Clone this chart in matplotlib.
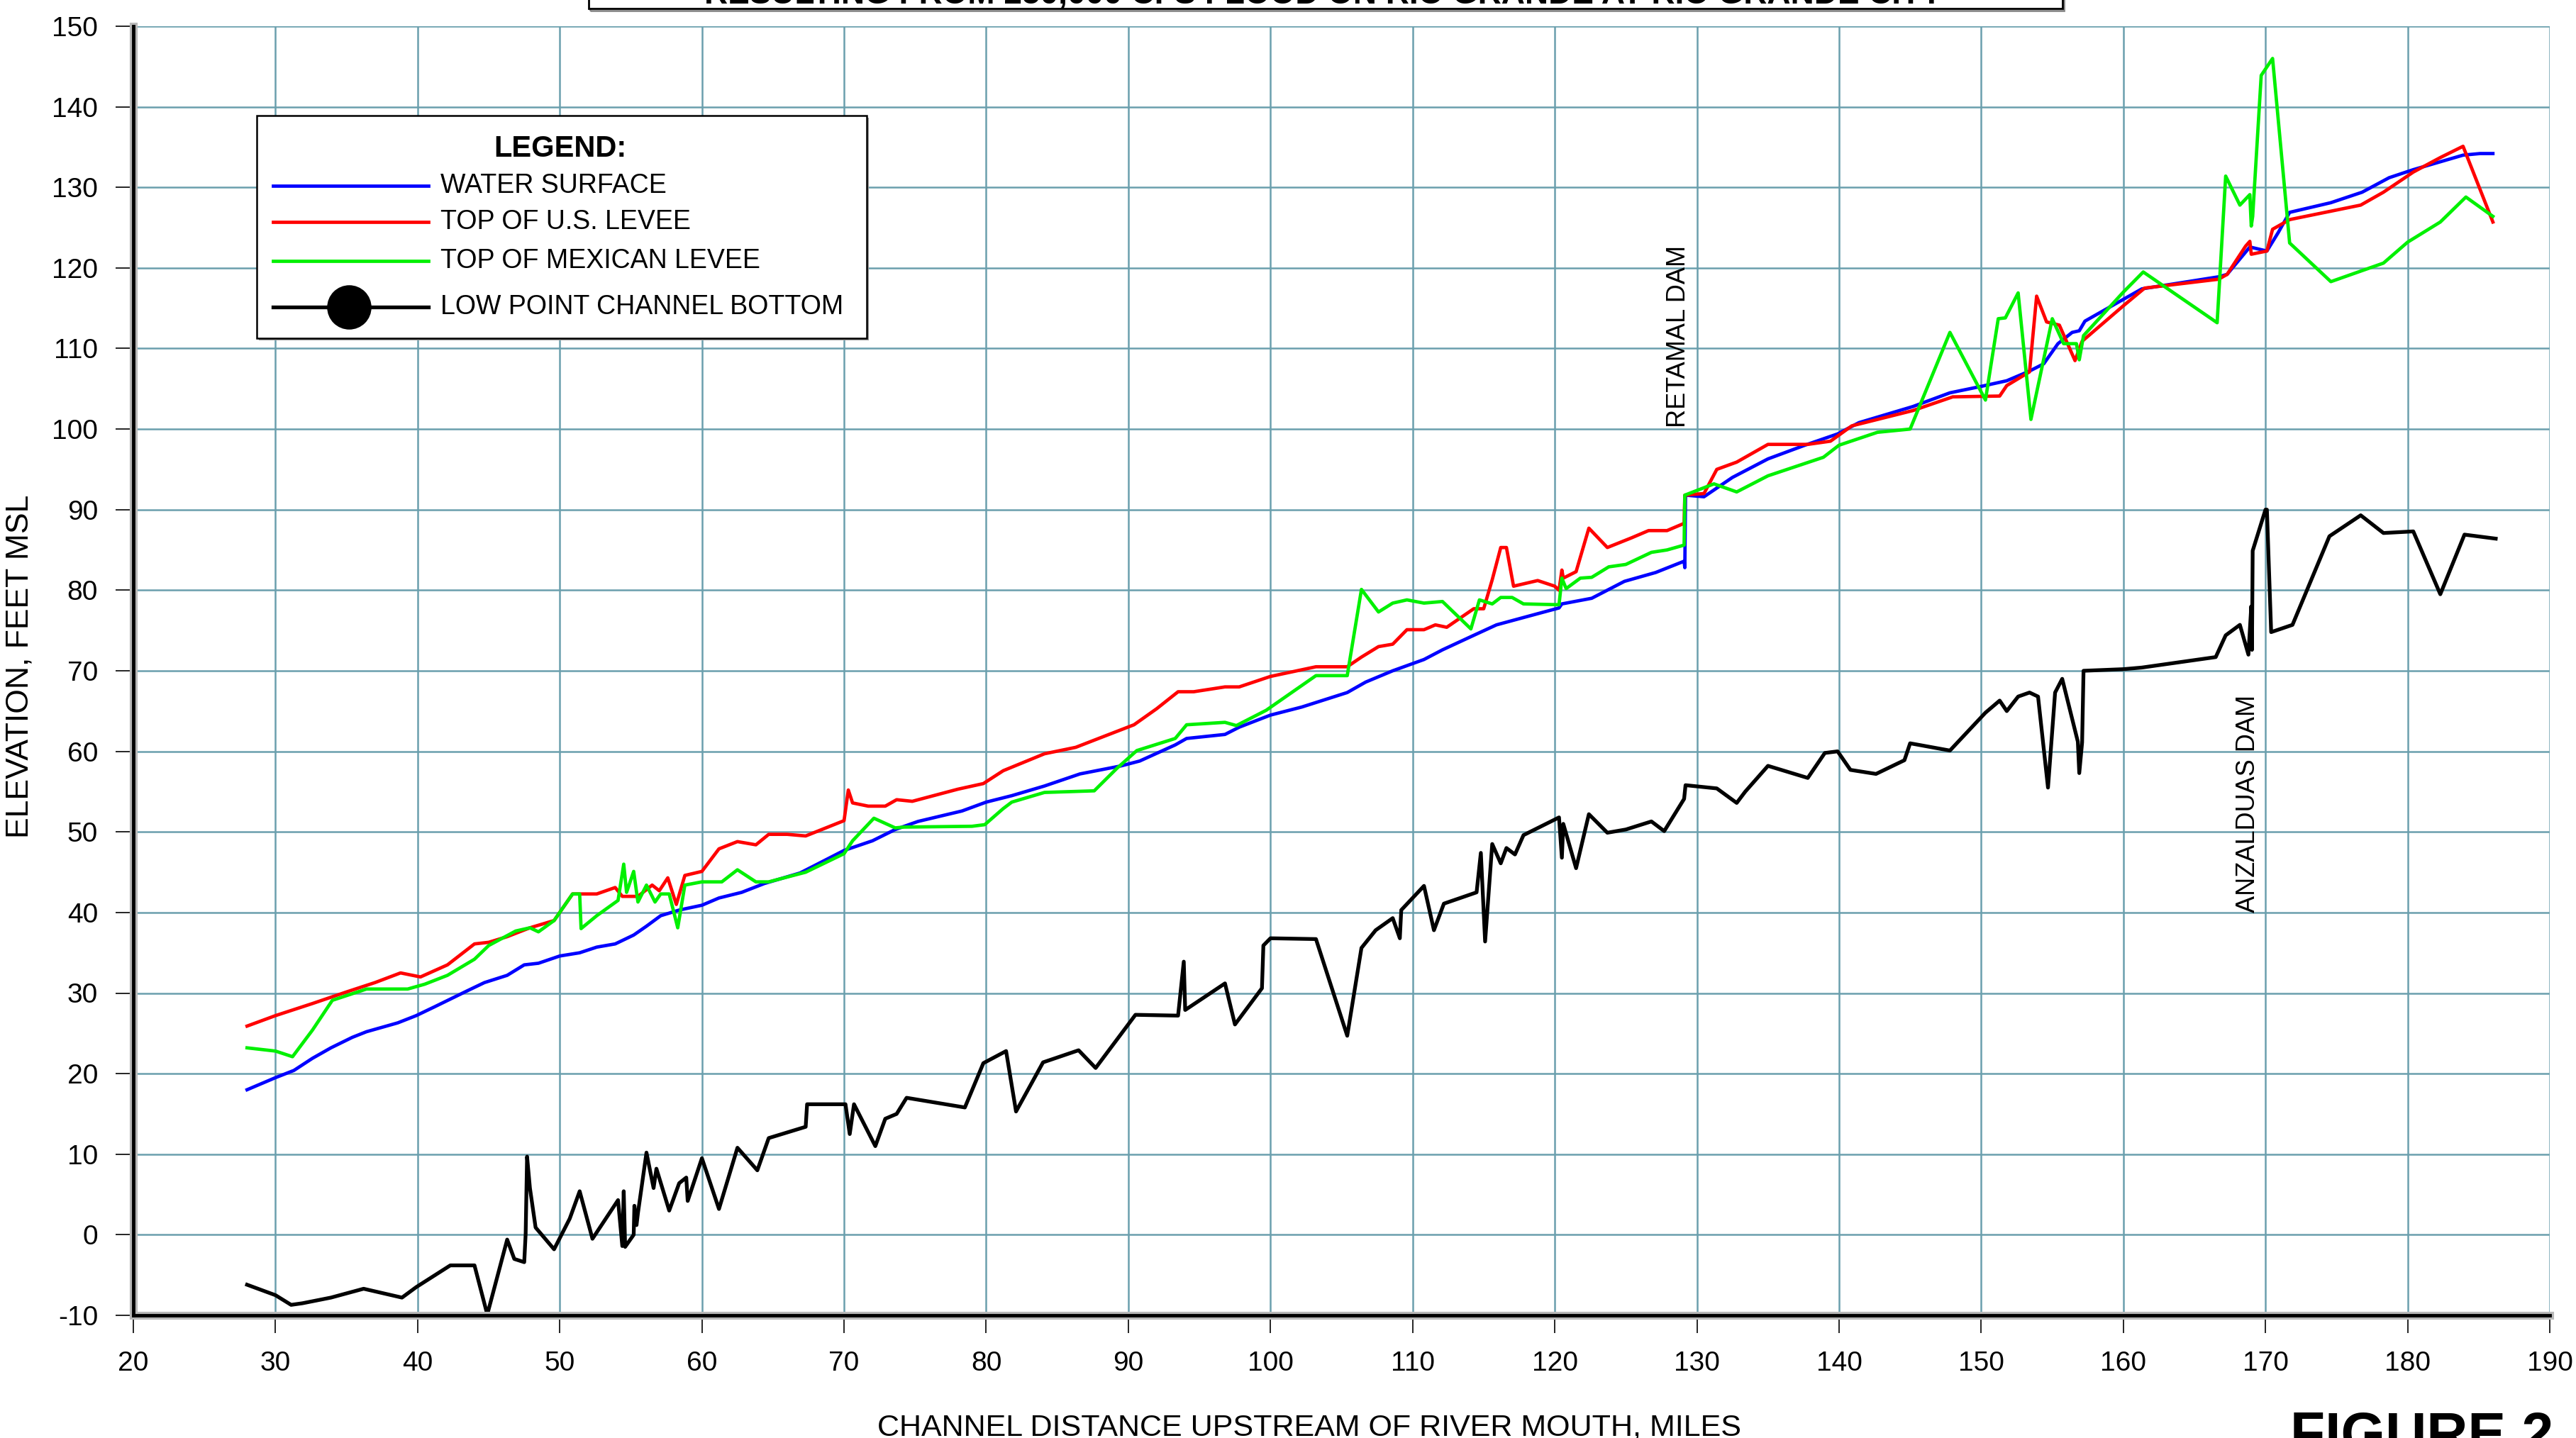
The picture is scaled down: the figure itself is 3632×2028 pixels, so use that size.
import matplotlib
matplotlib.use("Agg")
import matplotlib.pyplot as plt
from matplotlib.patches import Rectangle
from matplotlib.lines import Line2D

plt.rcParams['font.family'] = ['Liberation Sans', 'DejaVu Sans']
plt.rcParams['axes.unicode_minus'] = False

W, H = 3632, 2028

# water surface profile (blue)
ws_mile = [28, 30, 31.3, 32.6, 33.9, 35.4, 36.4, 38.6, 39.9, 41.2, 43.4, 44.7, 46.3, 47.5, 48.5,
           50, 51.4, 52.6, 53.9, 55.2, 56.1, 57.1, 58.4, 60, 61.2, 62.8, 64.4, 66.9, 67.9, 70,
           72, 73.6, 75.2, 78.3, 80, 81.8, 84.1, 86.6, 89.5, 90.8, 93.3, 94.1, 96.8, 97.8, 100,
           102.2, 105.4, 106.7, 108.6, 110.8, 112.1, 114.3, 115.9, 118.2, 120.3, 120.5, 122.6,
           124.9, 127.1, 129.1, 129.15, 129.2, 130.5, 132.5, 135.0, 137.6, 139.9, 141.4, 145.2,
           147.8, 150, 151.8, 153.4, 154.4, 155.4, 156.4, 156.9, 157.3, 160, 161.3, 166.7, 167.3,
           168.9, 170.1, 170.9, 171.7, 174.6, 176.8, 178.7, 180.4, 183.9, 185.1, 186.0]
ws_elev = [18.0, 19.5, 20.4, 21.9, 23.2, 24.5, 25.2, 26.3, 27.2, 28.3, 30.2, 31.3, 32.2, 33.5, 33.7,
           34.6, 35.0, 35.7, 36.1, 37.2, 38.3, 39.6, 40.3, 40.9, 41.8, 42.5, 43.6, 44.9, 45.8, 47.7,
           48.9, 50.3, 51.3, 52.6, 53.7, 54.5, 55.7, 57.2, 58.2, 58.8, 60.8, 61.6, 62.1, 63.0, 64.5,
           65.5, 67.3, 68.6, 70.0, 71.4, 72.6, 74.4, 75.7, 76.8, 77.8, 78.3, 79.0,
           81.1, 82.2, 83.6, 82.8, 91.8, 91.6, 94.0, 96.3, 98.0, 99.4, 100.8, 102.8,
           104.5, 105.3, 106.0, 107.2, 108.1, 110.6, 112.0, 112.2, 113.4, 116.1, 117.4, 118.9, 119.2,
           122.6, 122.1, 124.4, 126.9, 128.1, 129.4, 131.2, 132.2, 134.0, 134.2, 134.2]

# top of U.S. levee (red)
us_mile = [28, 30, 32.6, 35.1, 37.0, 38.8, 40.2, 42.1, 44.0, 45.0, 46.3, 47.9, 49.6, 50.9, 51.4,
           52.6, 53.9, 54.4, 55.5, 56.5, 57.0, 57.6, 58.2, 58.8, 60, 61.2, 62.5, 63.8, 64.7, 66,
           67.3, 70, 70.3, 70.6, 71.7, 72.9, 73.7, 74.8, 78.0, 79.8, 81.2, 84.1, 86.3, 88.2, 90.4,
           92.0, 93.5, 94.6, 96.8, 97.8, 100, 103.2, 105.4, 106.4, 107.6, 108.6, 109.6, 110.8,
           111.6, 112.4, 114.3, 115.0, 115.6, 116.2, 116.6, 117.1, 118.8, 120.0, 120.3, 120.5,
           120.6, 121.5, 122.4, 123.7, 125.4, 126.6, 127.9, 129.1, 129.15, 130.5, 131.4, 132.8,
           135.0, 137.8, 139.4, 140.9, 145.2, 148.0, 151.3, 151.8, 153.4, 153.9, 154.6, 155.5,
           156.6, 157.1, 160, 161.5, 166.7, 167.3, 168.6, 168.9, 169.0, 170.1, 170.5, 171.7,
           176.7, 178.3, 180.4, 182.3, 183.9, 186.0]
us_elev = [25.9, 27.2, 28.7, 30.2, 31.3, 32.5, 32.0, 33.5, 36.1, 36.3, 37.0, 38.1, 39.0, 42.3, 42.3,
           42.3, 43.1, 42.0, 42.0, 43.4, 42.7, 44.3, 41.0, 44.6, 45.1, 47.9, 48.8, 48.4, 49.7, 49.7,
           49.5, 51.4, 55.2, 53.6, 53.2, 53.2, 54.0, 53.8, 55.3, 56.0, 57.6, 59.7, 60.5, 61.8, 63.3,
           65.3, 67.4, 67.4, 68.0, 68.0, 69.3, 70.5, 70.5, 71.7, 73.0, 73.3, 75.1, 75.1,
           75.7, 75.4, 77.7, 77.7, 81.3, 85.3, 85.3, 80.5, 81.2, 80.5, 80.0, 82.5,
           81.5, 82.3, 87.7, 85.3, 86.5, 87.4, 87.4, 88.3, 91.8, 92.0, 95.0, 95.9,
           98.1, 98.1, 98.5, 100.4, 102.3, 104.0, 104.1, 105.4, 107.1, 116.5, 113.3, 112.9,
           108.5, 110.9, 115.3, 117.5, 118.6, 119.2, 122.7, 123.3, 121.7, 122.1, 124.8, 126.0,
           127.8, 129.4, 131.9, 133.7, 135.1, 125.7]

# top of Mexican levee (green)
mx_mile = [28, 30, 31.2, 32.6, 34, 36.4, 39.3, 40.5, 42.1, 44, 45, 46.9, 47.9, 48.5, 49.6, 50.9,
           51.4, 51.5, 52.6, 54.1, 54.5, 54.7, 55.2, 55.5, 56.1, 56.7, 57.1, 57.7, 58.3, 58.8, 60,
           61.4, 62.5, 63.8, 64.7, 67.3, 70, 70.6, 72.1, 73.6, 74.2, 79.0, 79.9, 81.2, 81.8, 84.1,
           87.6, 89.2, 90.6, 93.3, 94.1, 96.8, 97.6, 99.7, 103.2, 105.4, 106.4, 107.6, 108.6,
           109.6, 110.8, 112.1, 114.1, 114.7, 115.6, 116.2, 117.0, 117.8, 120.3, 120.5, 120.8,
           121.8, 122.6, 123.8, 125.0, 126.8, 127.9, 129.1, 129.15, 131.2, 132.8, 135.0, 138.9,
           140.0, 142.7, 145.0, 147.8, 150.3, 151.2, 151.7, 152.6, 153.5, 155.0, 155.8, 156.7,
           156.9, 157.2, 160, 161.4, 166.6, 167.2, 168.2, 168.9, 169.0, 169.1, 169.7, 170.5,
           171.7, 174.6, 178.3, 180, 182.3, 184.1, 186.0]
mx_elev = [23.2, 22.8, 22.1, 25.4, 29.1, 30.5, 30.5, 31.1, 32.2, 34.2, 35.9, 37.7, 38.1, 37.6, 39.0, 42.3,
           42.3, 38.0, 39.6, 41.5, 46.0, 42.5, 45.1, 41.3, 43.4, 41.3, 42.3, 42.3, 38.1, 43.4, 43.8,
           43.8, 45.3, 43.8, 43.8, 45.0, 47.3, 48.9, 51.7, 50.5, 50.6, 50.7, 50.9, 52.9, 53.7, 54.9,
           55.1, 57.9, 60.1, 61.6, 63.3, 63.6, 63.2, 65.1, 69.4, 69.4, 80.1, 77.3, 78.4,
           78.8, 78.4, 78.6, 75.2, 78.8, 78.3, 79.1, 79.1, 78.3, 78.2, 81.5, 80.2,
           81.5, 81.6, 82.9, 83.2, 84.7, 85.0, 85.6, 91.8, 93.2, 92.2, 94.2, 96.5,
           98.0, 99.6, 100.0, 112.0, 103.6, 113.7, 113.8, 116.9, 101.2, 113.7, 110.6, 110.6,
           108.6, 111.6, 117.0, 119.5, 113.2, 131.4, 127.8, 129.1, 125.2, 126.4, 143.9, 146.0,
           123.1, 118.3, 120.6, 123.2, 125.7, 128.8, 126.4]

# low point channel bottom (black)
cb_mile = [28, 30, 31.1, 31.9, 33.9, 36.2, 38.9, 39.9, 42.3, 44.0, 44.9, 46.3, 46.8, 47.5, 47.6,
           47.7, 47.9, 48.3, 49.6, 50.7, 51.4, 52.3, 54.1, 54.4, 54.5, 54.6, 55.2, 55.25, 55.4,
           55.5, 56.1, 56.6, 56.8, 57.7, 58.4, 58.9, 59.0, 60, 61.2, 62.5, 63.9, 64.7, 67.3, 67.4,
           70.1, 70.4, 70.7, 72.2, 72.9, 73.7, 74.4, 78.5, 79.8, 81.4, 82.1, 84.0, 86.5, 87.7,
           90.5, 93.5, 93.9, 94.0, 96.8, 97.5, 99.4, 99.5, 100, 103.2, 105.4, 106.4, 107.4,
           108.6, 109.1, 109.2, 110.8, 111.5, 112.2, 114.5, 114.8, 115.1, 115.6, 116.2, 116.6,
           117.2, 117.8, 120.3, 120.5, 120.6, 121.5, 122.4, 123.7, 125.0, 126.8, 127.7, 129.1,
           129.2, 131.4, 132.8, 133.4, 135.0, 137.8, 139.0, 139.9, 140.8, 142.6, 144.6, 145.0,
           147.8, 150.3, 151.3, 151.8, 152.6, 153.4, 154.0, 154.7, 155.2, 155.7, 156.8, 156.9,
           157.1, 157.2, 160.0, 161.3, 166.5, 167.2, 168.2, 168.8, 169.0, 169.05, 169.1, 170.0,
           170.1, 170.4, 171.9, 174.5, 176.7, 178.3, 180.4, 182.3, 184.0, 186.2]
cb_elev = [-6.2, -7.5, -8.7, -8.5, -7.8, -6.7, -7.8, -6.5, -3.8, -3.8, -9.9, -0.6, -3.0, -3.4, 0.1,
           9.7, 5.8, 0.9, -1.8, 2.0, 5.4, -0.5, 4.3, -1.4, 5.4, -1.5, 0.0, 3.6, 1.2,
           2.7, 10.2, 5.8, 8.2, 3.0, 6.4, 7.1, 4.2, 9.5, 3.2, 10.8, 8.0, 12.0, 13.4, 16.2,
           16.2, 12.5, 16.2, 11.0, 14.4, 15.0, 17.0, 15.8, 21.3, 22.8, 15.3, 21.4, 22.9, 20.7,
           27.3, 27.2, 33.9, 27.9, 31.2, 26.1, 30.6, 35.9, 36.8, 36.7, 24.7, 35.6, 37.8,
           39.3, 36.8, 40.3, 43.3, 37.8, 41.1, 42.5, 47.4, 36.4, 48.5, 46.1, 48.0,
           47.2, 49.6, 51.8, 46.8, 51.0, 45.5, 52.2, 49.9, 50.3, 51.3, 50.1, 54.1,
           55.8, 55.4, 53.6, 55.0, 58.2, 56.7, 59.8, 60.0, 57.7, 57.2, 58.9, 61.0,
           60.1, 64.8, 66.3, 65.0, 66.8, 67.3, 66.8, 55.5, 67.3, 69.0, 61.2, 57.3,
           61.1, 70.0, 70.2, 70.4, 71.7, 74.4, 75.7, 72.0, 78.0, 72.6, 84.9, 90.0,
           90.0, 74.8, 75.7, 86.7, 89.3, 87.1, 87.3, 79.5, 86.9, 86.4]

x_ticks = list(range(20, 191, 10))
y_ticks = list(range(-10, 151, 10))

series = [
    ("WATER SURFACE", ws_mile, ws_elev, "#0000ff"),
    ("TOP OF U.S. LEVEE", us_mile, us_elev, "#ff0000"),
    ("TOP OF MEXICAN LEVEE", mx_mile, mx_elev, "#00f000"),
]


def fxy(px, py):
    # full-size pixel position -> figure fraction
    return px / W, 1 - py / H


fig = plt.figure(figsize=(W / 100, H / 100), dpi=100)
ax = fig.add_axes([188 / W, 1 - 1855 / H, (3595 - 188) / W, (1855 - 37) / H])

grid_col = "#6a9fad"
ax.set_xlim(20, 190)
ax.set_ylim(-10, 150)
ax.set_xticks(x_ticks)
ax.set_yticks(y_ticks)
ax.grid(True, color=grid_col, lw=1.8, zorder=0)
ax.set_axisbelow(True)

ax.plot(cb_mile, cb_elev, color="black", lw=3.8, zorder=3)
for name, xs, ys, col in series:
    ax.plot(xs, ys, color=col, lw=3.4, zorder=4)

for s in ["top", "right"]:
    ax.spines[s].set_visible(False)
for s in ["left", "bottom"]:
    ax.spines[s].set_linewidth(3.5)
    ax.spines[s].set_zorder(6)
# gray halo along the two axis lines
ax.add_line(Line2D([20, 20], [-10, 150], color="#b8b8b8", lw=8, zorder=5, clip_on=False))
ax.add_line(Line2D([20, 190], [-10, -10], color="#b8b8b8", lw=8, zorder=5, clip_on=False))

ax.tick_params(direction="out", length=18, width=1.2, labelsize=28, pad=18, colors="black")

ax.text(128.7, 100.2, "RETAMAL DAM", rotation=90, ha="center", va="bottom",
        fontsize=26, zorder=7)
ax.text(168.75, 40.0, "ANZALDUAS DAM", rotation=90, ha="center", va="bottom",
        fontsize=26, zorder=7)

# axis titles
fig.text(*fxy(28, 940), "ELEVATION, FEET MSL", rotation=90, ha="center", va="center",
         fontsize=32)
fig.text(*fxy(1846, 1993), "CHANNEL DISTANCE UPSTREAM OF RIVER MOUTH, MILES", ha="center",
         va="top", fontsize=31)
fig.text(*fxy(3600, 1990), "FIGURE 2", ha="right", va="top", fontsize=58, fontweight="bold")

# title box, cut by the top edge
bx0, by0 = fxy(830, 12)
bx1, _ = fxy(2908, 12)
fig.add_artist(Rectangle((bx0 + 2 / W, by0 - 3 / H), bx1 - bx0, 0.05, transform=fig.transFigure,
                         fill=False, ec="#888888", lw=2.0))
fig.add_artist(Rectangle((bx0, by0), bx1 - bx0, 0.05, transform=fig.transFigure,
                         facecolor="white", ec="black", lw=2.0))
fig.text(*fxy(1866, 5), "RESULTING FROM 250,000 CFS FLOOD ON RIO GRANDE AT RIO GRANDE CITY",
         ha="center", va="baseline", fontsize=33, fontweight="bold")

# legend box
lx0, ly1 = fxy(362, 163)
lx1, ly0 = fxy(1222, 477)
fig.add_artist(Rectangle((lx0 + 3 / W, ly0 - 3 / H), lx1 - lx0, ly1 - ly0, transform=fig.transFigure,
                         facecolor="#999999", ec="none", zorder=9))
fig.add_artist(Rectangle((lx0, ly0), lx1 - lx0, ly1 - ly0, transform=fig.transFigure,
                         facecolor="white", ec="black", lw=1.8, zorder=10))
fig.text(*fxy(790, 210), "LEGEND:", ha="center", va="center", fontsize=30, fontweight="bold",
         zorder=11)
rows_y = [262, 313, 368]
for (name, xs, ys, col), ry in zip(series, rows_y):
    a, b = fxy(385, ry)
    c, _ = fxy(604, ry)
    fig.add_artist(Line2D([a, c], [b, b], color=col, lw=3.4, transform=fig.transFigure, zorder=11))
    fig.text(*fxy(621, ry), name, ha="left", va="center", fontsize=27, zorder=11)
a, b = fxy(385, 433)
c, _ = fxy(604, 433)
m, _ = fxy(492, 433)
fig.add_artist(Line2D([a, c], [b, b], color="black", lw=3.8, transform=fig.transFigure, zorder=11))
fig.add_artist(Line2D([m], [b], marker="o", ms=44, color="black", transform=fig.transFigure,
                      zorder=12))
fig.text(*fxy(621, 433), "LOW POINT CHANNEL BOTTOM", ha="left", va="center", fontsize=27,
         zorder=11)

fig.savefig("out.png", dpi=100, facecolor="white")
